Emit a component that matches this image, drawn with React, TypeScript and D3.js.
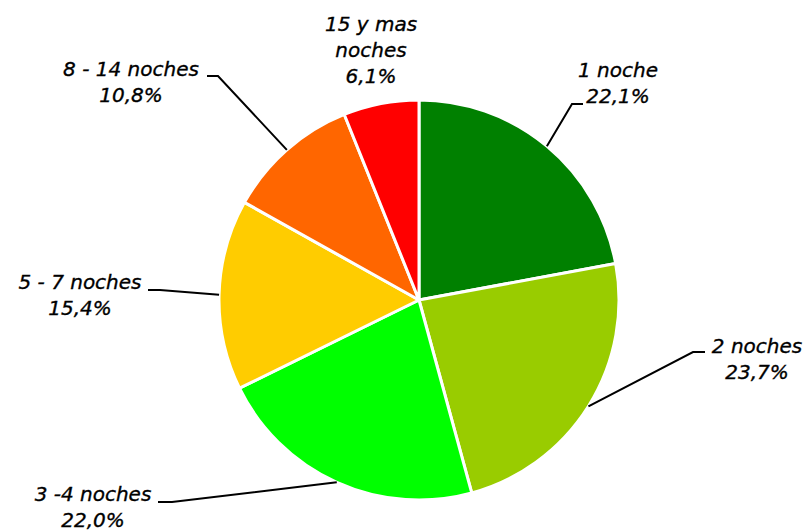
import { useRef, useEffect } from 'react'
import * as d3 from 'd3'

// estancias por numero de noches
const categories = ['1 noche', '2 noches', '3 -4 noches', '5 - 7 noches', '8 - 14 noches', '15 y mas noches']
const values = [22.1, 23.7, 22.0, 15.4, 10.8, 6.1]
const colors = ['#008000', '#99CC00', '#00FF00', '#FFCC00', '#FF6600', '#FF0000']

// label text lines, one entry per category
const labelLines = [
  ['1 noche'],
  ['2 noches'],
  ['3 -4 noches'],
  ['5 - 7 noches'],
  ['8 - 14 noches'],
  ['15 y mas', 'noches'],
]

// label layout: text centre x, first baseline y, leader elbow and end (null = no leader)
const labelLayout = [
  { x: 618, y: 77, elbow: [572, 104], end: [583, 104] },
  { x: 757, y: 353, elbow: [693, 352], end: [705, 352] },
  { x: 93, y: 501, elbow: [172, 502], end: [158, 502] },
  { x: 80, y: 289, elbow: [160, 290], end: [148, 290] },
  { x: 131, y: 76, elbow: [218, 76], end: [207, 76] },
  { x: 371, y: 31, elbow: null, end: null },
]

const W = 807, H = 531
const cx = 419, cy = 300, R = 200

function App() {
  const ref = useRef<SVGSVGElement>(null)

  useEffect(() => {
    const svg = d3.select(ref.current)
    svg.selectAll('*').remove()

    const pie = d3.pie<number>().sort(null).value(d => d)
    const arcs = pie(values)
    const arc = d3.arc<d3.PieArcDatum<number>>().innerRadius(0).outerRadius(R)

    const g = svg.append('g').attr('transform', `translate(${cx},${cy})`)
    g.selectAll('path')
      .data(arcs)
      .enter()
      .append('path')
      .attr('d', arc)
      .attr('fill', (d, i) => colors[i])
      .attr('stroke', '#fff')
      .attr('stroke-width', 3)
      .attr('stroke-linejoin', 'round')

    const fmt = (v: number) => v.toFixed(1).replace('.', ',') + '%'

    arcs.forEach((a, i) => {
      const lay = labelLayout[i]
      if (lay.elbow && lay.end) {
        const mid = (a.startAngle + a.endAngle) / 2
        const px = cx + R * Math.sin(mid)
        const py = cy - R * Math.cos(mid)
        svg.append('polyline')
          .attr('points', `${px},${py} ${lay.elbow[0]},${lay.elbow[1]} ${lay.end[0]},${lay.end[1]}`)
          .attr('fill', 'none')
          .attr('stroke', '#000')
          .attr('stroke-width', 2)
      }
      const lines = [...labelLines[i], fmt(values[i])]
      const t = svg.append('text')
        .attr('text-anchor', 'middle')
        .style('font', 'italic 20px "DejaVu Sans", sans-serif')
        .attr('fill', '#000')
        .attr('stroke', '#000')
        .attr('stroke-width', 0.35)
      lines.forEach((ln, k) => {
        t.append('tspan').attr('x', lay.x).attr('y', lay.y + k * 26).text(ln)
      })
    })
  }, [])

  return (
    <svg ref={ref} width={W} height={H} viewBox={`0 0 ${W} ${H}`}
      style={{ position: 'absolute', left: 0, top: 0, background: '#fff' }}>
    </svg>
  )
}

export default App
